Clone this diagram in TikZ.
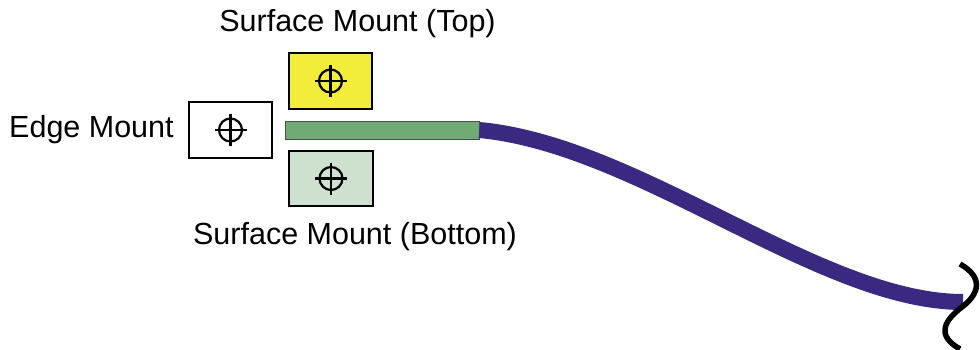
\documentclass[tikz,border=0pt]{standalone}
\usepackage{fontspec}
\setmainfont{Liberation Sans}
\definecolor{topyellow}{RGB}{242,236,59}
\definecolor{botgreen}{RGB}{206,224,206}
\definecolor{bargreen}{RGB}{112,170,116}
\definecolor{cablepurple}{RGB}{59,40,128}
\tikzset{
  mountbox/.style={draw=black, line width=2pt, rectangle, minimum width=83pt, minimum height=56pt, inner sep=0pt},
  lbl/.style={font=\fontsize{30.5}{35}\selectfont, inner sep=0pt, anchor=base},
  cross/.style={line width=2.2pt, black},
}
\newcommand{\crosshair}[1]{%
  \draw[cross] (#1) circle (11.5pt);
  \draw[cross] ($(#1)+(-16,0)$) -- ($(#1)+(16,0)$);
  \draw[cross] ($(#1)+(0,-16)$) -- ($(#1)+(0,16)$);
}
\usetikzlibrary{calc}
\begin{document}
\begin{tikzpicture}[x=1pt,y=-1pt]
\useasboundingbox (0,0) rectangle (980,349);
% boxes
\node[mountbox, fill=white] (edge) at (230.5,130) {};
\node[mountbox, fill=topyellow] (top) at (330.5,81) {};
\node[mountbox, fill=botgreen, minimum width=84pt, minimum height=55pt] (bot) at (331,178.5) {};
\crosshair{edge.center}
\crosshair{top.center}
\crosshair{bot.center}
% green bar
\node[draw=black!70, line width=0.8pt, fill=bargreen, rectangle, minimum width=194pt, minimum height=18pt, inner sep=0pt] (bar) at (382,130) {};
% cable
\coordinate (cableend) at (963,302);
\draw[cablepurple, line width=16pt] (bar.east) .. controls (640,145) and (820,302) .. (cableend);
% break squiggle
\coordinate (sq1) at (960,264);
\coordinate (sq2) at (962,307);
\coordinate (sq3) at (960,349);
\draw[black, line width=5.5pt] (sq1) .. controls (985,278) and (978,295) .. (sq2) .. controls (945,320) and (935,335) .. (sq3);
% labels
\node[lbl] (ltop) at (357.5,31) {Surface Mount (Top)};
\node[lbl, anchor=base west] (ledge) at (9,137) {Edge Mount};
\node[lbl] (lbot) at (355,244) {Surface Mount (Bottom)};
\end{tikzpicture}
\end{document}
